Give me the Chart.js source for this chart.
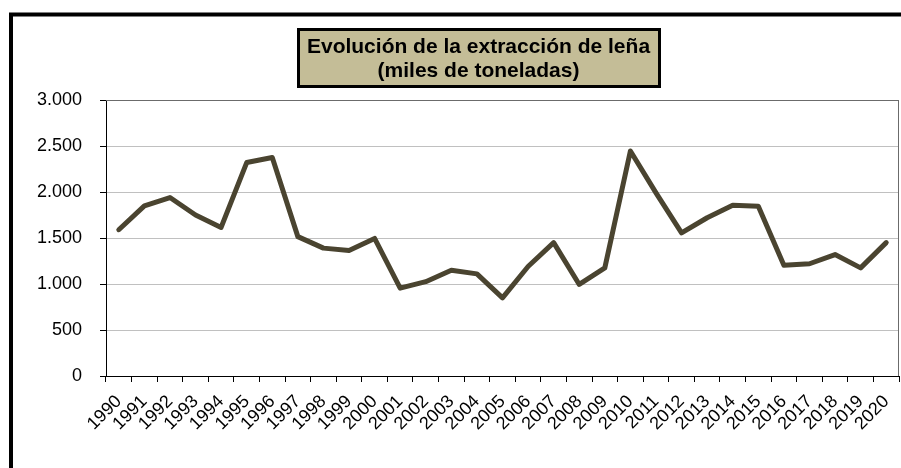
<!DOCTYPE html>
<html>
<head>
<meta charset="utf-8">
<script src="https://cdn.jsdelivr.net/npm/chart.js@4.4.1/dist/chart.umd.min.js"></script>
<style>
  html, body { margin: 0; padding: 0; background: #fff; }
  #c { display: block; }
</style>
</head>
<body>
<canvas id="c" width="901" height="468"></canvas>
<script>
const categories = ['1990','1991','1992','1993','1994','1995','1996','1997','1998','1999','2000','2001','2002','2003','2004','2005','2006','2007','2008','2009','2010','2011','2012','2013','2014','2015','2016','2017','2018','2019','2020'];
const extraccion = [1590,1850,1940,1750,1615,2320,2375,1515,1390,1365,1495,955,1025,1150,1110,850,1190,1450,995,1175,2445,1990,1555,1720,1855,1845,1205,1220,1320,1175,1450];
const yTickLabels = ['0','500','1.000','1.500','2.000','2.500','3.000'];
const titleLines = ['Evolución de la extracción de leña', '(miles de toneladas)'];

const FONT = "'Liberation Sans', Arial, Helvetica, sans-serif";
const TITLE_STYLE = { size: 21, centerX: 478.5, baselines: [53, 77], box: { top: 29.5, bottom: 86.5, padX: 9 } };

const decorPlugin = {
  id: 'decor',
  beforeDraw(chart) {
    const ctx = chart.ctx;
    ctx.save();
    ctx.font = 'bold ' + TITLE_STYLE.size + 'px ' + FONT;
    let w = 0;
    titleLines.forEach(t => { w = Math.max(w, ctx.measureText(t).width); });
    const cx = TITLE_STYLE.centerX;
    const x0 = Math.round(cx - w / 2 - TITLE_STYLE.box.padX) + 0.5;
    const x1 = Math.round(cx + w / 2 + TITLE_STYLE.box.padX) + 0.5;
    const y0 = TITLE_STYLE.box.top, y1 = TITLE_STYLE.box.bottom;
    ctx.fillStyle = '#C4BD97';
    ctx.fillRect(x0, y0, x1 - x0, y1 - y0);
    ctx.lineWidth = 3;
    ctx.strokeStyle = '#000';
    ctx.strokeRect(x0, y0, x1 - x0, y1 - y0);
    ctx.fillStyle = '#000';
    ctx.textAlign = 'center';
    ctx.textBaseline = 'alphabetic';
    titleLines.forEach((t, i) => ctx.fillText(t, cx, TITLE_STYLE.baselines[i]));
    ctx.restore();
  },
  beforeDatasetsDraw(chart) {
    const ctx = chart.ctx;
    const a = chart.chartArea;
    ctx.save();
    ctx.strokeStyle = '#6b6b6b';
    ctx.lineWidth = 1;
    ctx.beginPath();
    ctx.moveTo(a.left, Math.round(a.top) + 0.5);
    ctx.lineTo(Math.round(a.right) - 0.5, Math.round(a.top) + 0.5);
    ctx.lineTo(Math.round(a.right) - 0.5, a.bottom);
    ctx.stroke();
    ctx.restore();
  },
  afterDraw(chart) {
    const ctx = chart.ctx;
    ctx.save();
    ctx.strokeStyle = '#000';
    ctx.lineWidth = 4;
    ctx.strokeRect(11, 14.5, 960, 560);
    ctx.restore();
  }
};

new Chart(document.getElementById('c'), {
  type: 'line',
  data: {
    labels: categories,
    datasets: [{
      data: extraccion,
      borderColor: '#4a4430',
      borderWidth: 5,
      tension: 0,
      pointRadius: 0,
      pointHoverRadius: 0,
      borderCapStyle: 'round',
      borderJoinStyle: 'round',
      fill: false
    }]
  },
  options: {
    responsive: false,
    animation: false,
    events: [],
    layout: { padding: { left: 0, right: 2, top: 100, bottom: 0 } },
    plugins: {
      legend: { display: false },
      tooltip: { enabled: false },
      title: { display: false }
    },
    scales: {
      x: {
        type: 'category',
        offset: true,
        afterFit(scale) { scale.height = 92; scale.paddingLeft = 0; scale.paddingRight = 0; },
        grid: { offset: true, drawOnChartArea: false, drawTicks: true, tickLength: 6, tickColor: '#000' },
        border: { display: true, color: '#000', width: 1 },
        ticks: { autoSkip: false, minRotation: 45, maxRotation: 45, color: '#000', padding: 9, font: { family: FONT, size: 18 } }
      },
      y: {
        min: 0,
        max: 3000,
        afterFit(scale) { scale.width = 106; scale.paddingTop = 0; scale.paddingBottom = 0; },
        grid: {
          color: (c) => (c.tick && c.tick.value === 3000) ? '#6b6b6b' : '#c0c0c0',
          tickColor: '#000',
          tickLength: 6,
          lineWidth: 1
        },
        border: { display: true, color: '#000', width: 1 },
        ticks: {
          stepSize: 500,
          color: '#000',
          padding: 18,
          font: { family: FONT, size: 18 },
          callback: (v, i) => yTickLabels[i]
        }
      }
    }
  },
  plugins: [decorPlugin]
});
</script>
</body>
</html>
